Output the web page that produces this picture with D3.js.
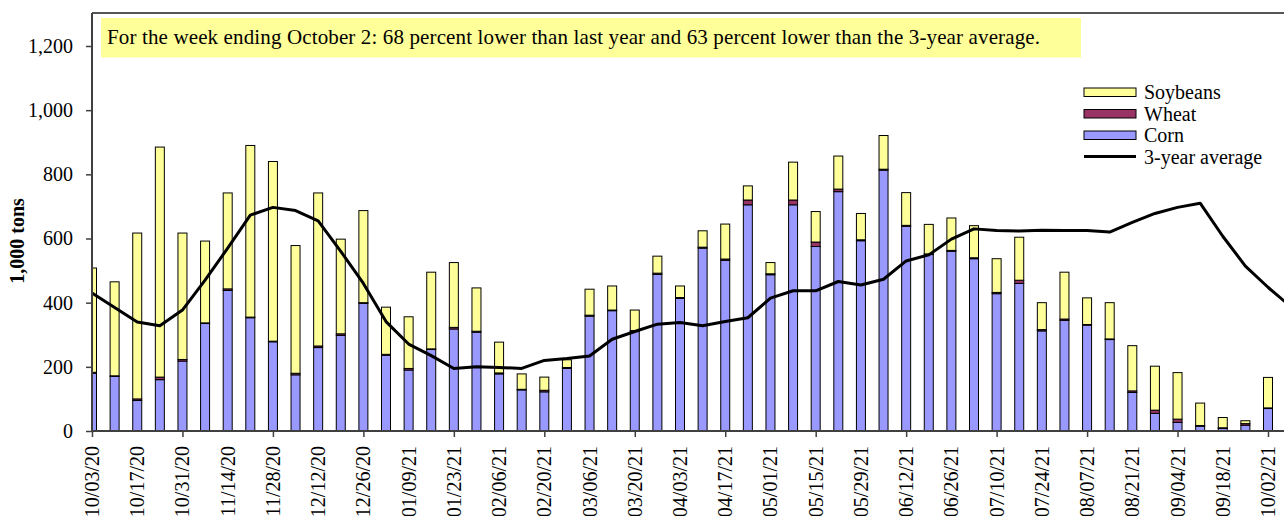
<!DOCTYPE html>
<html><head><meta charset="utf-8">
<script src="https://cdn.jsdelivr.net/npm/d3@7"></script>
<style>
html,body{margin:0;padding:0;background:#fff;}
svg{display:block;font-family:"Liberation Serif","Times New Roman",serif;}
</style></head>
<body>
<svg id="chart" width="1284" height="516"></svg>
<script>
const weeks = ["10/03/20","10/10/20","10/17/20","10/24/20","10/31/20","11/07/20","11/14/20","11/21/20","11/28/20","12/05/20","12/12/20","12/19/20","12/26/20","01/02/21","01/09/21","01/16/21","01/23/21","01/30/21","02/06/21","02/13/21","02/20/21","02/27/21","03/06/21","03/13/21","03/20/21","03/27/21","04/03/21","04/10/21","04/17/21","04/24/21","05/01/21","05/08/21","05/15/21","05/22/21","05/29/21","06/05/21","06/12/21","06/19/21","06/26/21","07/03/21","07/10/21","07/17/21","07/24/21","07/31/21","08/07/21","08/14/21","08/21/21","08/28/21","09/04/21","09/11/21","09/18/21","09/25/21","10/02/21","10/09/21"];
const corn = [180,170,95,160,218,335,438,353,278,175,260,298,398,236,190,254,318,308,178,128,122,195,358,375,310,488,413,570,532,705,487,705,575,746,593,813,638,550,560,537,428,460,312,345,330,285,120,55,27,15,8,18,70];
const wheat = [3,2,5,8,5,2,5,2,2,5,5,5,2,3,5,2,5,3,3,2,5,3,3,2,3,4,3,3,4,15,3,15,14,8,3,3,3,2,3,3,4,10,4,4,2,2,5,10,10,2,2,5,2];
const soybeans = [325,293,517,717,394,255,299,535,560,398,477,295,287,147,161,239,202,135,96,48,41,24,81,75,64,53,36,51,109,44,35,118,95,103,82,105,102,92,101,100,105,134,84,146,83,113,141,137,145,70,32,9,95];
const threeYearAvg = [430,385,340,328,377,470,570,673,697,687,655,560,460,341,271,235,195,200,198,195,220,226,234,286,310,333,338,328,341,353,414,437,437,466,455,473,530,549,598,630,625,623,626,625,625,620,650,678,697,710,607,514,448,388];
const yTicks = [0,200,400,600,800,1000,1200];
const seriesNames = ["Soybeans","Wheat","Corn"];
const colors = {Soybeans:"#FFFF99", Wheat:"#993366", Corn:"#9999FF"};
const title = "For the week ending October 2: 68 percent lower than last year and 63 percent lower than the 3-year average.";
const yLabel = "1,000 tons";

const svg = d3.select("#chart");
const plotLeft = 92, plotTop = 13, plotBottom = 431;
const x = d3.scaleLinear().domain([0, 52]).range([92, 1268]);
const y = d3.scaleLinear().domain([0, 1200]).range([431, 46]);

svg.append("rect").attr("width",1284).attr("height",516).attr("fill","#fff");

svg.append("defs").append("clipPath").attr("id","plotclip")
  .append("rect").attr("x",plotLeft).attr("y",0).attr("width",1284-plotLeft).attr("height",plotBottom+1);

// stacked bars
const rows = corn.map((c,i)=>({i, Corn:c, Wheat:wheat[i], Soybeans:soybeans[i]}));
const stack = d3.stack().keys(["Corn","Wheat","Soybeans"])(rows);
const bw = 9;
const gBars = svg.append("g").attr("clip-path","url(#plotclip)");
stack.forEach(layer=>{
  gBars.selectAll(null).data(layer).enter().append("rect")
    .attr("x", d=>x(d.data.i)-bw/2)
    .attr("y", d=>y(d[1]))
    .attr("width", bw)
    .attr("height", d=>Math.max(0, y(d[0])-y(d[1])))
    .attr("fill", colors[layer.key])
    .attr("stroke","#000").attr("stroke-width",1);
});

// 3-year average line
const line = d3.line().x((d,i)=>x(i)).y(d=>y(d)).curve(d3.curveLinear);
svg.append("path").datum(threeYearAvg).attr("d", line)
  .attr("fill","none").attr("stroke","#000").attr("stroke-width",3)
  .attr("stroke-linejoin","round");

// frame
svg.append("line").attr("x1",plotLeft).attr("x2",1284).attr("y1",plotTop).attr("y2",plotTop)
  .attr("stroke","#555").attr("stroke-width",2);
svg.append("line").attr("x1",plotLeft).attr("x2",plotLeft).attr("y1",plotTop).attr("y2",plotBottom)
  .attr("stroke","#404040").attr("stroke-width",2);
svg.append("line").attr("x1",plotLeft).attr("x2",1284).attr("y1",plotBottom).attr("y2",plotBottom)
  .attr("stroke","#404040").attr("stroke-width",2);

// y axis
const yAxis = d3.axisLeft(y).tickValues(yTicks).tickSize(6).tickPadding(13)
  .tickFormat(d3.format(","));
const gy = svg.append("g").attr("transform",`translate(${plotLeft},0)`).call(yAxis);
gy.select(".domain").remove();
gy.selectAll(".tick line").attr("stroke","#404040").attr("stroke-width",1.5);
gy.selectAll(".tick text").attr("font-family","Liberation Serif").attr("font-size",20).attr("fill","#000");

// x axis tick marks every 4 weeks
const tickIdx = d3.range(0, 53, 4);
const xTicks = d3.axisBottom(x).tickValues(tickIdx).tickSize(6).tickFormat("");
const gxt = svg.append("g").attr("transform",`translate(0,${plotBottom})`).call(xTicks);
gxt.select(".domain").remove();
gxt.selectAll(".tick line").attr("stroke","#404040").attr("stroke-width",1.5);

// x labels every 2 weeks
const labelIdx = d3.range(0, 53, 2);
svg.append("g").selectAll("text").data(labelIdx).enter().append("text")
  .attr("transform", i=>`translate(${x(i)},446) rotate(-90)`)
  .attr("text-anchor","end").attr("dy","0.35em")
  .attr("font-size",20).attr("fill","#000")
  .text(i=>weeks[i]);

// y label
svg.append("text").attr("transform","translate(24,241) rotate(-90)")
  .attr("text-anchor","middle").attr("font-weight","bold").attr("font-size",20)
  .text(yLabel);

// title box
svg.append("rect").attr("x",101).attr("y",18).attr("width",980).attr("height",39.5).attr("fill","#FFFF99");
svg.append("text").attr("x",107).attr("y",43.5).attr("font-size",21)
  .attr("textLength",933).attr("lengthAdjust","spacing").text(title);

// legend
const lg = svg.append("g");
seriesNames.forEach((n,k)=>{
  const by = 99 + k*21.5;
  lg.append("rect").attr("x",1084).attr("y",by-11).attr("width",52).attr("height",8.5)
    .attr("fill",colors[n]).attr("stroke","#000").attr("stroke-width",1);
  lg.append("text").attr("x",1144).attr("y",by).attr("font-size",20).text(n);
});
lg.append("line").attr("x1",1084).attr("x2",1136).attr("y1",156.5).attr("y2",156.5)
  .attr("stroke","#000").attr("stroke-width",3);
lg.append("text").attr("x",1144).attr("y",163.5).attr("font-size",20).text("3-year average");
</script>
</body></html>
